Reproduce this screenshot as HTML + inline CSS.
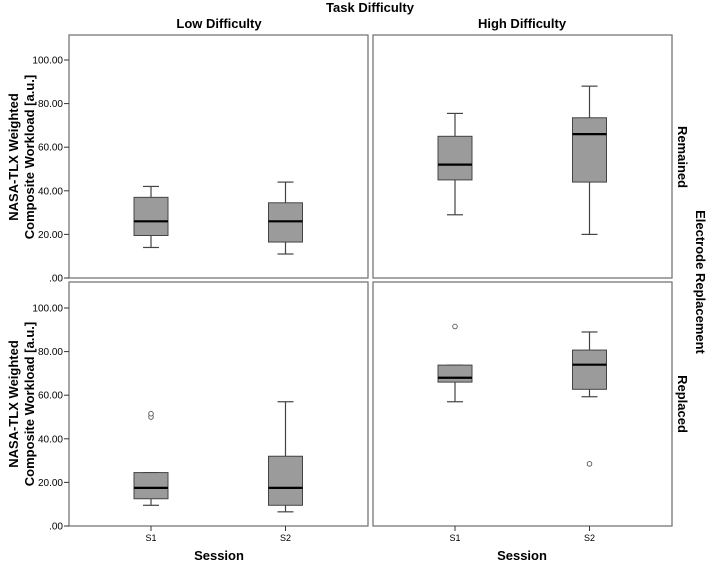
<!DOCTYPE html>
<html><head><meta charset="utf-8"><style>
html,body{margin:0;padding:0;background:#fff}
svg{display:block;font-family:"Liberation Sans",Arial,sans-serif}
</style></head><body>
<svg id="c" width="708" height="565" viewBox="0 0 708 565">
<text x="370" y="12" text-anchor="middle" font-size="13" font-weight="bold">Task Difficulty</text>
<text x="219" y="28" text-anchor="middle" font-size="13" font-weight="bold">Low Difficulty</text>
<text x="522" y="28" text-anchor="middle" font-size="13" font-weight="bold">High Difficulty</text>
<text transform="translate(696,282) rotate(90)" text-anchor="middle" font-size="13" font-weight="bold">Electrode Replacement</text>
<text transform="translate(678,157) rotate(90)" text-anchor="middle" font-size="13" font-weight="bold">Remained</text>
<text transform="translate(678,404) rotate(90)" text-anchor="middle" font-size="13" font-weight="bold">Replaced</text>
<g font-size="13" font-weight="bold" text-anchor="middle">
<text transform="translate(18,157) rotate(-90)">NASA-TLX Weighted</text>
<text transform="translate(34,157) rotate(-90)">Composite Workload [a.u.]</text>
<text transform="translate(18,404) rotate(-90)">NASA-TLX Weighted</text>
<text transform="translate(34,404) rotate(-90)">Composite Workload [a.u.]</text>
<text x="219" y="560">Session</text>
<text x="522" y="560">Session</text>
</g>
</svg>
<script>
const sessions=["S1","S2"];
const yTicks=[0,20,40,60,80,100];
const yTickLabels=[".00","20.00","40.00","60.00","80.00","100.00"];
// [min,q1,median,q3,max] per session
const tlS=[[14,19.5,26,37,42],[11,16.5,26,34.5,44]];
const trS=[[29,45,52,65,75.5],[20,44,66,73.5,88]];
const blS=[[9.5,12.5,17.5,24.5,24.5],[6.5,9.5,17.5,32,57]];
const brS=[[57,66,68,73.8,73.8],[59.3,62.7,74,80.7,89]];
const tlOut=[[],[]];
const trOut=[[],[]];
const blOut=[[50,51.5],[]];
const brOut=[[91.5],[28.5]];
const svg=document.getElementById('c');
const NS='http://www.w3.org/2000/svg';
function mk(t,a){const e=document.createElementNS(NS,t);for(const k in a)e.setAttribute(k,a[k]);svg.appendChild(e);return e;}
const panels=[
 {x0:69,x1:368,y0:35,y1:278,stats:tlS,out:tlOut,left:true,bottom:false,n:'top-left'},
 {x0:373,x1:672,y0:35,y1:278,stats:trS,out:trOut,left:false,bottom:false,n:'top-right'},
 {x0:69,x1:368,y0:282,y1:526,stats:blS,out:blOut,left:true,bottom:true,n:'bottom-left'},
 {x0:373,x1:672,y0:282,y1:526,stats:brS,out:brOut,left:false,bottom:true,n:'bottom-right'}];
panels.forEach(p=>{
 const ys=v=>p.y1-v*2.18;
 const xs=i=>p.x0+82+i*134.5;
 const r=mk('rect',{x:p.x0,y:p.y0,width:p.x1-p.x0,height:p.y1-p.y0,fill:'none',stroke:'#777','stroke-width':1.3});
 
 
 if(p.left){yTicks.forEach((t,i)=>{
  const l=mk('line',{x1:p.x0-5,x2:p.x0,y1:ys(t),y2:ys(t),stroke:'#333'});
  
  
  const tx=mk('text',{x:p.x0-6,y:ys(t)+3.5,'text-anchor':'end','font-size':10});
  tx.textContent=yTickLabels[i];
  
  
 });}
 p.stats.forEach((s,i)=>{
  const cx=xs(i),w=17;
  if(p.bottom){
   const l=mk('line',{x1:cx,x2:cx,y1:p.y1,y2:p.y1+5,stroke:'#333'});
   
   
   const tx=mk('text',{x:cx,y:p.y1+15,'text-anchor':'middle','font-size':9});
   tx.textContent=sessions[i];
   
   
  }
  const g=mk('g',{});
  
  
  const add=(t,a)=>{const e=document.createElementNS(NS,t);for(const k in a)e.setAttribute(k,a[k]);g.appendChild(e);return e;};
  add('line',{x1:cx,x2:cx,y1:ys(s[0]),y2:ys(s[4]),stroke:'#444','stroke-width':1.2});
  add('line',{x1:cx-8,x2:cx+8,y1:ys(s[0]),y2:ys(s[0]),stroke:'#444','stroke-width':1.2});
  add('line',{x1:cx-8,x2:cx+8,y1:ys(s[4]),y2:ys(s[4]),stroke:'#444','stroke-width':1.2});
  add('rect',{x:cx-w,y:ys(s[3]),width:2*w,height:ys(s[1])-ys(s[3]),fill:'#9b9b9b',stroke:'#444','stroke-width':1});
  add('line',{x1:cx-w,x2:cx+w,y1:ys(s[2]),y2:ys(s[2]),stroke:'#000','stroke-width':2.2});
  p.out[i].forEach(o=>{
   const c=mk('circle',{cx:cx,cy:ys(o),r:2.3,fill:'#fff',stroke:'#555','stroke-width':0.9});
   
   
  });
 });
});
</script>
</body></html>
